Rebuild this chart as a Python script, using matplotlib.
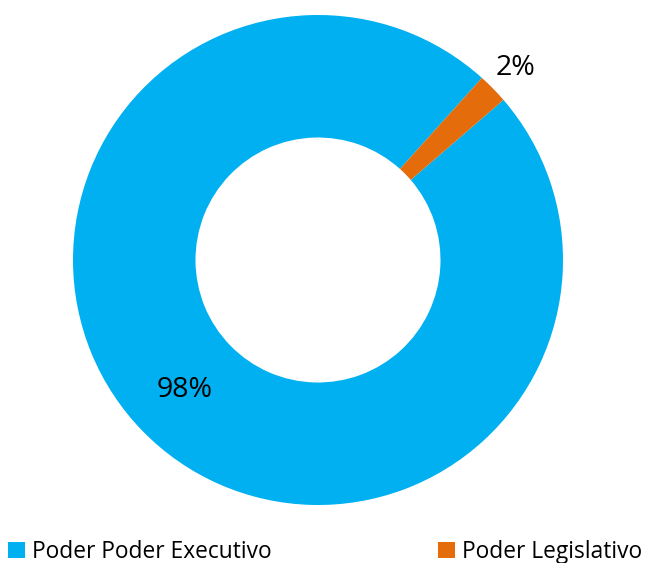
import numpy as np
import matplotlib
matplotlib.use("Agg")
import matplotlib.pyplot as plt

labels = ["Poder Poder Executivo", "Poder Legislativo"]
values = [98, 2]
colors = ["#00B0F0", "#E46C0A"]

plt.rcParams["font.family"] = ["Open Sans", "DejaVu Sans"]

fig = plt.figure(figsize=(6.46, 5.63), dpi=100)
ax = fig.add_axes([73 / 646, 58 / 563, 490 / 646, 490 / 563])

wedges, _, autotexts = ax.pie(
    values,
    colors=colors,
    startangle=40.8,
    counterclock=False,
    autopct="%1.0f%%",
    pctdistance=0.76,
    radius=1.0,
    wedgeprops=dict(width=0.5, edgecolor="none"),
    textprops=dict(fontsize=20.5, color="black"),
)

# small slice label sits outside the ring
w = wedges[1]
mid = np.deg2rad((w.theta1 + w.theta2) / 2)
autotexts[1].set_position((1.13 * np.cos(mid), 1.12 * np.sin(mid)))

ax.set_xlim(-1, 1)
ax.set_ylim(-1, 1)
ax.set_aspect("equal")

fig.legend(
    wedges, labels,
    loc="lower left",
    bbox_to_anchor=(6 / 646, -0.006, 638 / 646, 0.05),
    mode="expand",
    ncol=2,
    frameon=False,
    fontsize=16.4,
    handlelength=0.75,
    handleheight=0.75,
    handletextpad=0.3,
    borderaxespad=0.0,
    borderpad=0.1,
)

fig.savefig("out.png", dpi=100)
